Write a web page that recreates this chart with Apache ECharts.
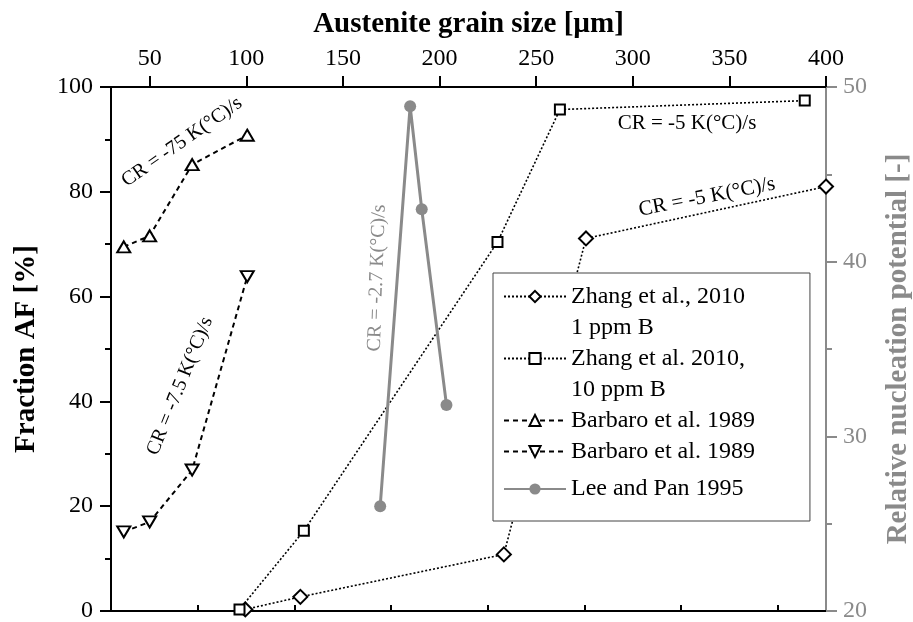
<!DOCTYPE html>
<html>
<head>
<meta charset="utf-8">
<script src="https://cdn.jsdelivr.net/npm/echarts@6/dist/echarts.min.js"></script>
<style>
html,body{margin:0;padding:0;background:#fff;}
#chart{width:913px;height:622px;}
</style>
</head>
<body>
<div id="chart"></div>
<script>
// ---- data ----
const xTickValues = [50, 100, 150, 200, 250, 300, 350, 400];
const xMinorTickValues = [75, 125, 175, 225, 275, 325, 375];
const zhang1ppm = [[99.5, 0.3], [128, 2.7], [233.3, 10.8], [275.8, 71.1], [400, 81]];
const zhang10ppm = [[96.5, 0.3], [129.8, 15.3], [230, 70.4], [262.3, 95.7], [389, 97.4]];
const barbaro75 = [[36.6, 69.5], [50, 71.6], [72, 85.2], [100.5, 90.8]];
const barbaro7_5 = [[36.6, 15.1], [50, 17], [72, 26.9], [100.5, 63.8]];
const leePan = [[169.3, 26.0], [184.8, 48.9], [190.8, 43.0], [203.6, 31.8]];

const FONT = "'Liberation Serif', 'Times New Roman', serif";
const GRAY = '#8a8a8a';
const deg = Math.PI / 180;

const legendLabels = {
  'Zhang et al., 2010': 'Zhang et al., 2010',
  '1 ppm B': '1 ppm B',
  'Zhang et al. 2010,': 'Zhang et al. 2010,',
  '10 ppm B': '10 ppm B',
  'Barbaro75': 'Barbaro et al. 1989',
  'Barbaro7.5': 'Barbaro et al. 1989',
  'Lee and Pan 1995': 'Lee and Pan 1995'
};

const chart = echarts.init(document.getElementById('chart'), null, {renderer: 'canvas'});

const openSym = {color: '#fff', borderColor: '#000', borderWidth: 2};

const option = {
  animation: false,
  backgroundColor: '#fff',
  textStyle: {fontFamily: FONT},
  grid: {left: 111, right: 87, top: 87, bottom: 11, containLabel: false, outerBoundsMode: 'none'},
  xAxis: [
    {
      type: 'value', position: 'top', min: 30, max: 400,
      name: 'Austenite grain size [µm]', nameLocation: 'middle', nameGap: 48,
      nameTextStyle: {fontFamily: FONT, fontSize: 29, fontWeight: 'bold', color: '#000'},
      axisLine: {show: true, onZero: false, lineStyle: {color: '#000', width: 2}},
      axisTick: {show: true, customValues: xTickValues, length: 11, lineStyle: {color: '#000', width: 2}},
      axisLabel: {show: true, customValues: xTickValues, margin: 16, fontFamily: FONT, fontSize: 24, color: '#000'},
      splitLine: {show: false}
    },
    {
      type: 'value', position: 'top', min: 30, max: 400,
      axisLine: {show: false},
      axisTick: {show: true, customValues: xMinorTickValues, length: 6, lineStyle: {color: '#000', width: 2}},
      axisLabel: {show: false},
      splitLine: {show: false}
    },
    {
      type: 'value', position: 'bottom', min: 30, max: 400,
      axisLine: {show: true, onZero: false, lineStyle: {color: '#000', width: 2}},
      axisTick: {show: false},
      axisLabel: {show: false},
      splitLine: {show: false}
    }
  ],
  yAxis: [
    {
      type: 'value', position: 'left', min: 0, max: 100, interval: 20,
      name: 'Fraction AF [%]', nameLocation: 'middle', nameGap: 70, nameRotate: 90,
      nameTextStyle: {fontFamily: FONT, fontSize: 29, fontWeight: 'bold', color: '#000'},
      axisLine: {show: true, onZero: false, lineStyle: {color: '#000', width: 2}},
      axisTick: {show: true, length: 11, lineStyle: {color: '#000', width: 2}},
      minorTick: {show: true, splitNumber: 2, length: 6, lineStyle: {color: '#000', width: 2}},
      axisLabel: {margin: 18, fontFamily: FONT, fontSize: 24, color: '#000'},
      splitLine: {show: false}, minorSplitLine: {show: false}
    },
    {
      type: 'value', position: 'right', min: 20, max: 50, interval: 10,
      name: 'Relative nucleation potential [-]', nameLocation: 'middle', nameGap: 58, nameRotate: 90,
      nameTextStyle: {fontFamily: FONT, fontSize: 29, fontWeight: 'bold', color: GRAY},
      axisLine: {show: true, onZero: false, lineStyle: {color: GRAY, width: 2}},
      axisTick: {show: true, length: 11, lineStyle: {color: GRAY, width: 2}},
      minorTick: {show: true, splitNumber: 2, length: 6, lineStyle: {color: GRAY, width: 2}},
      axisLabel: {margin: 17, fontFamily: FONT, fontSize: 24, color: GRAY},
      splitLine: {show: false}, minorSplitLine: {show: false}
    }
  ],
  legend: {
    orient: 'vertical', left: 493, top: 273,
    padding: [8, 55, 10, 10], itemGap: 0, itemWidth: 62, itemHeight: 14,
    backgroundColor: '#fff', borderColor: '#444', borderWidth: 1, borderRadius: 0,
    textStyle: {fontFamily: FONT, fontSize: 24, color: '#000', lineHeight: 31},
    formatter: function (name) { return legendLabels[name] || name; },
    selectedMode: false,
    data: [
      {name: 'Zhang et al., 2010'},
      {name: '1 ppm B', icon: 'none'},
      {name: 'Zhang et al. 2010,'},
      {name: '10 ppm B', icon: 'none'},
      {name: 'Barbaro75'},
      {name: 'Barbaro7.5'},
      {name: 'Lee and Pan 1995', textStyle: {lineHeight: 44}}
    ]
  },
  series: [
    {
      name: 'Zhang et al., 2010', type: 'line', data: zhang1ppm, xAxisIndex: 0, yAxisIndex: 0,
      symbol: 'diamond', symbolSize: 14, showAllSymbol: true, clip: false,
      itemStyle: openSym,
      lineStyle: {color: '#000', width: 1.6, type: [2, 2]},
      z: 3
    },
    {
      name: '1 ppm B', type: 'line', data: [], symbol: 'none',
      lineStyle: {width: 0, opacity: 0}
    },
    {
      name: 'Zhang et al. 2010,', type: 'line', data: zhang10ppm, xAxisIndex: 0, yAxisIndex: 0,
      symbol: 'rect', symbolSize: 10, showAllSymbol: true,
      itemStyle: openSym,
      lineStyle: {color: '#000', width: 1.6, type: [2, 2]},
      z: 3
    },
    {
      name: '10 ppm B', type: 'line', data: [], symbol: 'none',
      lineStyle: {width: 0, opacity: 0}
    },
    {
      name: 'Barbaro75', type: 'line', data: barbaro75, xAxisIndex: 0, yAxisIndex: 0,
      symbol: 'triangle', symbolSize: [13, 11], showAllSymbol: true,
      itemStyle: openSym,
      lineStyle: {color: '#000', width: 2, type: [5, 4]},
      z: 3
    },
    {
      name: 'Barbaro7.5', type: 'line', data: barbaro7_5, xAxisIndex: 0, yAxisIndex: 0,
      symbol: 'triangle', symbolRotate: 180, symbolSize: [13, 11], showAllSymbol: true,
      itemStyle: openSym,
      lineStyle: {color: '#000', width: 2, type: [5, 4]},
      z: 3
    },
    {
      name: 'Lee and Pan 1995', type: 'line', data: leePan, xAxisIndex: 0, yAxisIndex: 1,
      symbol: 'circle', symbolSize: 12, showAllSymbol: true,
      itemStyle: {color: GRAY},
      lineStyle: {color: GRAY, width: 3},
      z: 3
    }
  ],
  graphic: [
    {type: 'text', x: 182, y: 142, rotation: 35 * deg, z: 10,
      style: {text: 'CR = -75 K(°C)/s', fontFamily: FONT, fontSize: 20, fill: '#000', align: 'center', verticalAlign: 'middle'}},
    {type: 'text', x: 180, y: 386, rotation: 68 * deg, z: 10,
      style: {text: 'CR = -7.5 K(°C)/s', fontFamily: FONT, fontSize: 20, fill: '#000', align: 'center', verticalAlign: 'middle'}},
    {type: 'text', x: 377, y: 278, rotation: 88 * deg, z: 10,
      style: {text: 'CR = -2.7 K(°C)/s', fontFamily: FONT, fontSize: 20, fill: GRAY, align: 'center', verticalAlign: 'middle'}},
    {type: 'text', x: 687, y: 123, rotation: 0, z: 10,
      style: {text: 'CR = -5 K(°C)/s', fontFamily: FONT, fontSize: 21, fill: '#000', align: 'center', verticalAlign: 'middle'}},
    {type: 'text', x: 707, y: 197, rotation: 11 * deg, z: 10,
      style: {text: 'CR = -5 K(°C)/s', fontFamily: FONT, fontSize: 21, fill: '#000', align: 'center', verticalAlign: 'middle'}}
  ]
};

chart.setOption(option);
</script>
</body>
</html>
